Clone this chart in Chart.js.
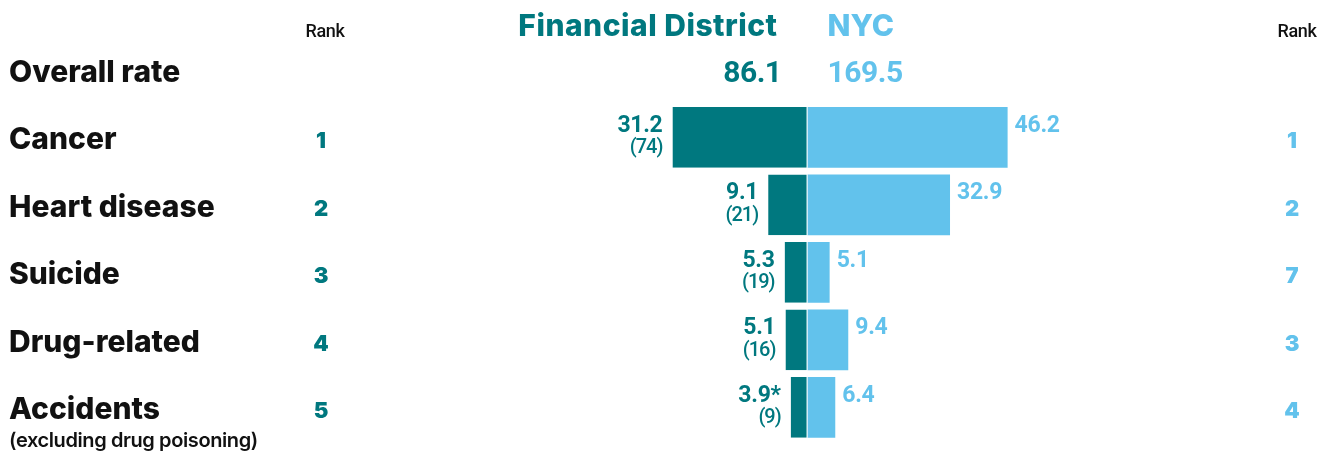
<!DOCTYPE html>
<html>
<head>
<meta charset="utf-8">
<script src="https://cdn.jsdelivr.net/npm/chart.js@4.4.1/dist/chart.umd.min.js"></script>
<style>
  html, body { margin: 0; padding: 0; background: #ffffff; }
  #wrap { position: relative; width: 1325px; height: 453px; }
</style>
</head>
<body>
<div id="wrap"><canvas id="chart" width="1325" height="453"></canvas></div>
<script>
// Death rates per 100,000 residents: Financial District vs. New York City
const categories = ['Overall rate', 'Cancer', 'Heart disease', 'Suicide', 'Drug-related', 'Accidents'];
const subLabels = ['', '', '', '', '', '(excluding drug poisoning)'];
const overallRates = [86.1, 169.5];            // [Financial District, NYC]
const fdRates = [null, 31.2, 9.1, 5.3, 5.1, 3.9];
const fdDeaths = [null, 74, 21, 19, 16, 9];
const fdNotes = ['', '', '', '', '', '*'];
const nycRates = [null, 46.2, 32.9, 5.1, 9.4, 6.4];
const fdRanks = [null, 1, 2, 3, 4, 5];
const nycRanks = [null, 1, 2, 7, 3, 4];
const seriesNames = ['Financial District', 'NYC'];
const rankTitle = 'Rank';

const TEAL = '#00787f';
const BLUE = '#62c2ec';
const INK = '#111111';
const NUM_FONT = 'Roboto, "Liberation Sans", sans-serif';
const LABEL_FONT = 'Inter, "Liberation Sans", sans-serif';

function txt(ctx, s, x, y, font, color, align, spacing) {
  ctx.save();
  ctx.font = font;
  ctx.fillStyle = color;
  ctx.textAlign = align;
  ctx.textBaseline = 'alphabetic';
  ctx.letterSpacing = (spacing || 0) + 'px';
  ctx.fillText(s, x, y);
  ctx.restore();
}

const annotations = {
  id: 'annotations',
  afterDatasetsDraw(chart) {
    const ctx = chart.ctx;
    const xs = chart.scales.x;
    const ys = chart.scales.y;
    const x0 = xs.getPixelForValue(0);
    const fdMeta = chart.getDatasetMeta(0);
    const nycMeta = chart.getDatasetMeta(1);

    // Column headers
    txt(ctx, seriesNames[0], x0 - 30, 36, '800 30px ' + LABEL_FONT, TEAL, 'right', 0.5);
    txt(ctx, seriesNames[1], x0 + 20, 36, '800 30px ' + LABEL_FONT, BLUE, 'left', 0);
    txt(ctx, rankTitle, 325, 37, '500 18px ' + NUM_FONT, INK, 'center', -0.3);
    txt(ctx, rankTitle, 1297, 37, '500 18px ' + NUM_FONT, INK, 'center', -0.3);

    categories.forEach((cat, i) => {
      const cy = ys.getPixelForValue(i);
      txt(ctx, cat, 9, cy + 12, '800 30px ' + LABEL_FONT, INK, 'left', 0);
      if (subLabels[i]) {
        txt(ctx, subLabels[i], 9, cy + 40, '600 20px ' + LABEL_FONT, INK, 'left', -0.4);
      }
      if (fdRanks[i] != null) {
        txt(ctx, String(fdRanks[i]), 321, cy + 11, '900 22px ' + LABEL_FONT, TEAL, 'center');
        txt(ctx, String(nycRanks[i]), 1292, cy + 11, '900 22px ' + LABEL_FONT, BLUE, 'center');
      }
      if (i === 0) {
        txt(ctx, overallRates[0].toFixed(1), x0 - 26, cy + 12, '700 30px ' + NUM_FONT, TEAL, 'right', -0.5);
        txt(ctx, overallRates[1].toFixed(1), x0 + 20, cy + 12, '700 30px ' + NUM_FONT, BLUE, 'left', -0.5);
        return;
      }
      const fdBar = fdMeta.data[i];
      const nycBar = nycMeta.data[i];
      const lx = fdBar.x - 10;
      txt(ctx, fdRates[i].toFixed(1) + fdNotes[i], lx, cy - 5.5, '700 23px ' + NUM_FONT, TEAL, 'right', -0.3);
      txt(ctx, '(' + fdDeaths[i] + ')', lx, cy + 16, '500 20px ' + NUM_FONT, TEAL, 'right', -1);
      txt(ctx, nycRates[i].toFixed(1), nycBar.x + 7, cy - 5.5, '700 23px ' + NUM_FONT, BLUE, 'left', -0.3);
    });
  }
};

new Chart(document.getElementById('chart'), {
  type: 'bar',
  data: {
    labels: categories,
    datasets: [
      {
        label: seriesNames[0],
        data: fdRates.map(v => (v == null ? null : -v)),
        backgroundColor: TEAL,
        borderColor: '#ffffff',
        borderWidth: { top: 0, bottom: 0, left: 0, right: 1 },
        borderSkipped: false
      },
      {
        label: seriesNames[1],
        data: nycRates,
        backgroundColor: BLUE,
        borderWidth: 0
      }
    ]
  },
  options: {
    indexAxis: 'y',
    responsive: false,
    animation: false,
    devicePixelRatio: 1,
    layout: { padding: { top: 36, bottom: 12, left: 0, right: 0 } },
    barPercentage: 0.9,
    categoryPercentage: 1,
    plugins: { legend: { display: false }, tooltip: { enabled: false } },
    scales: {
      x: { display: false, stacked: true, min: -186.5, max: 119.5 },
      y: { display: false, stacked: true, offset: true }
    }
  },
  plugins: [annotations]
});
</script>
</body>
</html>
